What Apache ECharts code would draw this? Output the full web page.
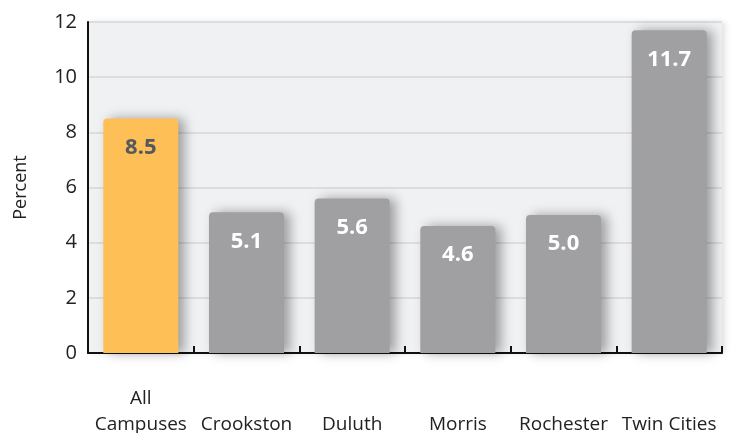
<!DOCTYPE html>
<html>
<head>
<meta charset="utf-8">
<script src="https://cdn.jsdelivr.net/npm/echarts@6/dist/echarts.min.js"></script>
<style>html,body{margin:0;padding:0;background:#fff}#c{width:731px;height:433px}</style>
</head>
<body>
<div id="c"></div>
<script>
var categories = ["All\nCampuses", "Crookston", "Duluth", "Morris", "Rochester", "Twin Cities"];
var values = [8.5, 5.1, 5.6, 4.6, 5.0, 11.7];
var yTicks = [0, 2, 4, 6, 8, 10, 12];

var FONT = "Open Sans";
var chart = echarts.init(document.getElementById('c'), null, {renderer: 'canvas'});
var data = values.map(function (v, i) {
  var first = i === 0;
  return {
    value: v,
    itemStyle: {color: first ? '#fdbf56' : '#a0a0a3'},
    label: {color: first ? '#545860' : '#ffffff'}
  };
});
chart.setOption({
  animation: false,
  grid: {
    left: 88, right: 9, top: 22, bottom: 80,
    outerBoundsMode: 'none', containLabel: false,
    show: true, backgroundColor: '#f0f1f3', borderWidth: 0,
    shadowBlur: 6, shadowColor: 'rgba(0,0,0,0.12)', shadowOffsetX: 3, shadowOffsetY: 0
  },
  xAxis: {
    type: 'category',
    data: categories,
    axisLine: {lineStyle: {color: '#111', width: 2}},
    axisTick: {show: true, inside: true, interval: 0, length: 7, lineStyle: {color: '#111', width: 2}},
    axisLabel: {
      interval: 0, hideOverlap: false,
      fontFamily: FONT, fontSize: 19, color: '#222', lineHeight: 26, margin: 33,
      formatter: function (v) { return v.indexOf('\n') >= 0 ? v : '\n' + v; }
    }
  },
  yAxis: {
    type: 'value',
    min: yTicks[0], max: yTicks[yTicks.length - 1], interval: 2,
    name: 'Percent',
    nameLocation: 'middle',
    nameGap: 58,
    nameRotate: 90,
    nameTextStyle: {fontFamily: FONT, fontSize: 18, color: '#222'},
    axisLine: {show: true, lineStyle: {color: '#111', width: 2}},
    axisTick: {show: false},
    axisLabel: {fontFamily: FONT, fontSize: 20, color: '#222', margin: 11},
    splitLine: {lineStyle: {color: '#dcdde0', width: 2}}
  },
  series: [{
    type: 'bar',
    data: data,
    barWidth: '71%',
    itemStyle: {
      borderRadius: [4, 4, 0, 0],
      shadowBlur: 12, shadowColor: 'rgba(0,0,0,0.35)', shadowOffsetX: 6, shadowOffsetY: 0
    },
    label: {
      show: true, position: 'insideTop', distance: 18,
      fontFamily: FONT, fontSize: 22, fontWeight: 'bold',
      formatter: function (p) { return p.value.toFixed(1); }
    }
  }]
});
</script>
</body>
</html>
